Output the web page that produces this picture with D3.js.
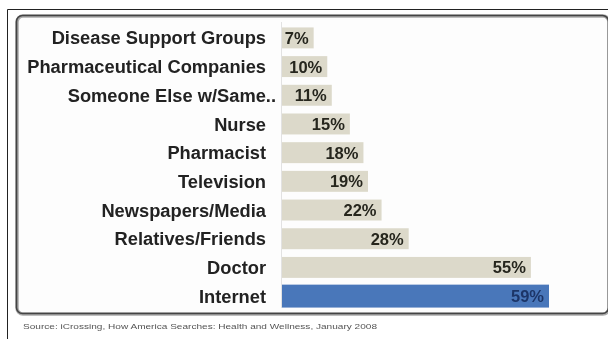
<!DOCTYPE html>
<html>
<head>
<meta charset="utf-8">
<script src="https://cdn.jsdelivr.net/npm/d3@7"></script>
<style>
  html, body { margin: 0; padding: 0; background: #fff; }
  svg { display: block; }
</style>
</head>
<body>
<svg id="chart" width="608" height="339"></svg>
<script>
// Where people turn for health information (share of respondents)
const categories = [
  "Disease Support Groups",
  "Pharmaceutical Companies",
  "Someone Else w/Same..",
  "Nurse",
  "Pharmacist",
  "Television",
  "Newspapers/Media",
  "Relatives/Friends",
  "Doctor",
  "Internet"
];
const values = [7, 10, 11, 15, 18, 19, 22, 28, 55, 59];
const highlight = "Internet";
const sourceNote = "Source: iCrossing, How America Searches: Health and Wellness, January 2008";

const svg = d3.select("#chart");
const W = 608, H = 339;

// outer frame
svg.append("path")
  .attr("d", `M7.5,${H} V9.5 H${W}`)
  .attr("fill", "none")
  .attr("stroke", "#222")
  .attr("stroke-width", 1);

const defs = svg.append("defs");
const blur = defs.append("filter").attr("id", "soft").attr("x", "-5%").attr("y", "-5%").attr("width", "110%").attr("height", "110%");
blur.append("feGaussianBlur").attr("stdDeviation", 0.45);

// inner rounded panel with soft shadow
svg.append("rect")
  .attr("x", 17).attr("y", 16)
  .attr("width", 592).attr("height", 298)
  .attr("rx", 6)
  .attr("fill", "#fdfdfd")
  .attr("stroke", "#aaa")
  .attr("stroke-width", 3.5);
svg.append("rect")
  .attr("x", 16.5).attr("y", 15.5)
  .attr("width", 592).attr("height", 298)
  .attr("rx", 6)
  .attr("fill", "none")
  .attr("stroke", "#444")
  .attr("stroke-width", 1.6);

const x = d3.scaleLinear().domain([0, 59]).range([282, 549]);
const y = d3.scaleBand().domain(categories).range([26, 308]).paddingInner(0.27).paddingOuter(0.05);

const g = svg.append("g").attr("filter", "url(#soft)");

// faint baseline for the bars
g.append("line")
  .attr("x1", 281.5).attr("x2", 281.5)
  .attr("y1", 22).attr("y2", 308)
  .attr("stroke", "#e2e2e2")
  .attr("stroke-width", 1);

const rows = categories.map((c, i) => ({ cat: c, val: values[i] }));

g.selectAll("rect.bar")
  .data(rows)
  .join("rect")
  .attr("class", "bar")
  .attr("x", x(0))
  .attr("y", d => y(d.cat) - (d.cat === highlight ? 1 : 0))
  .attr("width", d => x(d.val) - x(0))
  .attr("height", d => y.bandwidth() + (d.cat === highlight ? 2 : 0))
  .attr("fill", d => d.cat === highlight ? "#4a77ba" : "#dcd9ca");

g.selectAll("text.val")
  .data(rows)
  .join("text")
  .attr("class", "val")
  .attr("x", d => x(d.val) - 5)
  .attr("y", d => y(d.cat) + y.bandwidth() / 2)
  .attr("dy", "0.36em")
  .attr("text-anchor", "end")
  .attr("font-family", "Liberation Sans, Arial, sans-serif")
  .attr("font-weight", "bold")
  .attr("font-size", 16.5)
  .attr("fill", d => d.cat === highlight ? "#1d3668" : "#25251e")
  .text(d => d.val + "%");

// category axis labels; truncated names let their ellipsis hang past the edge
const yAxis = d3.axisLeft(y).tickSize(0).tickPadding(0);
const ax = g.append("g")
  .attr("transform", "translate(266,0)")
  .call(yAxis);
ax.select(".domain").remove();
ax.selectAll("text")
  .attr("font-family", "Liberation Sans, Arial, sans-serif")
  .attr("font-weight", "bold")
  .attr("font-size", 18.3)
  .attr("fill", "#222")
  .attr("dy", "0.36em")
  .attr("dx", d => d.endsWith("..") ? 10 : 0);

// source note
svg.append("text")
  .attr("x", 23)
  .attr("y", 329)
  .attr("font-family", "Liberation Sans, Arial, sans-serif")
  .attr("font-size", 8)
  .attr("fill", "#555")
  .attr("textLength", 354)
  .attr("lengthAdjust", "spacingAndGlyphs")
  .attr("filter", "url(#soft)")
  .text(sourceNote);
</script>
</body>
</html>
